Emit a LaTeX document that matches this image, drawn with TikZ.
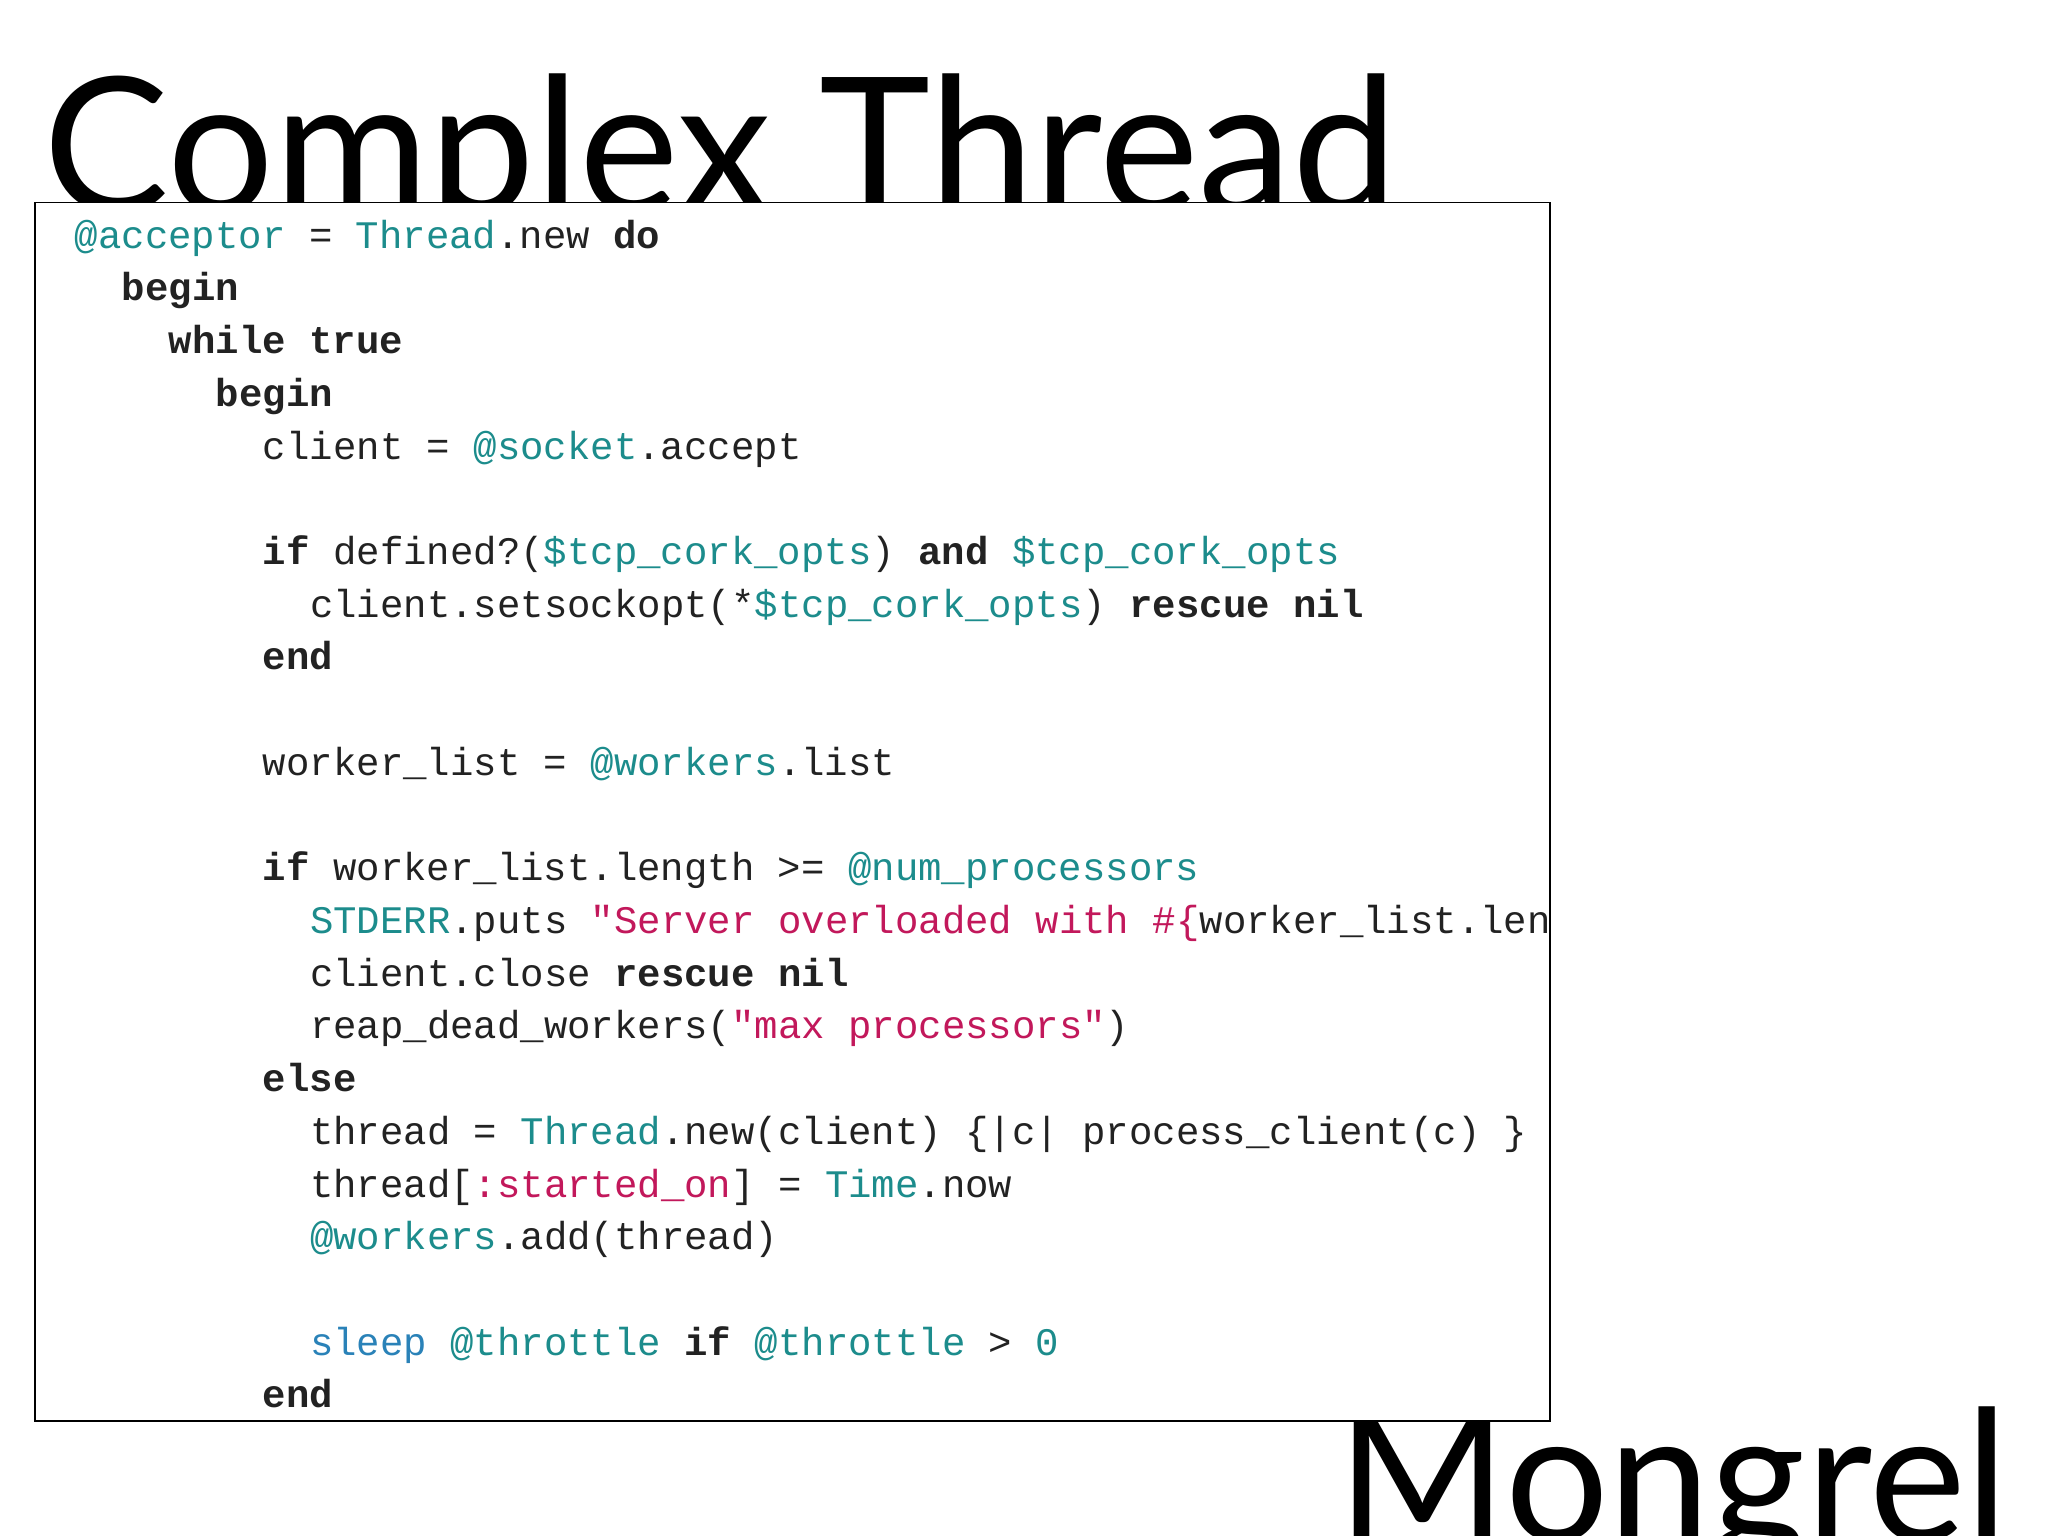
\documentclass[tikz,border=0pt]{standalone}
\usepackage{fontspec}
\setmainfont{Lato}
\setmonofont{Liberation Mono}
\usepackage{graphicx}
\definecolor{tl}{HTML}{1C8C8C}
\definecolor{st}{HTML}{C2185B}
\definecolor{bl}{HTML}{2A82B8}
\definecolor{tx}{HTML}{222222}
\newcommand{\kw}[1]{\textbf{#1}}
\newcommand{\tq}[1]{\textcolor{tl}{#1}}
\newcommand{\sq}[1]{\textcolor{st}{#1}}
\newcommand{\bq}[1]{\textcolor{bl}{#1}}
\tikzset{codeline/.style={anchor=base west,inner sep=0pt,font=\fontsize{17}{20}\selectfont\ttfamily,text=tx},
 bigtitle/.style={anchor=base west,inner sep=0pt}}
\begin{document}
\begin{tikzpicture}[x=0.02cm,y=-0.02cm]
\useasboundingbox (0,0) rectangle (1568,1176);
\fill[white] (0,0) rectangle (1568,1176);
\node[bigtitle] (title) at (33,163) {\resizebox{590pt}{!}{Complex Thread}};
\node[bigtitle] (mong) at (1024,1180) {\resizebox{292pt}{!}{Mongrel}};
\draw[fill=white,line width=0.8pt] (27,155) rectangle (1187,1088);
\begin{scope}
\clip (28,156) rectangle (1186,1087);
\def\L{40.36}
\newcommand{\cl}[3]{\node[codeline] at ({57+18*#1},{190+\L*#2}) {#3};}
\cl{0}{0}{\tq{@acceptor} = \tq{Thread}.new \kw{do}}
\cl{2}{1}{\kw{begin}}
\cl{4}{2}{\kw{while true}}
\cl{6}{3}{\kw{begin}}
\cl{8}{4}{client = \tq{@socket}.accept}
\cl{8}{6}{\kw{if} defined?(\tq{\$tcp\_cork\_opts}) \kw{and} \tq{\$tcp\_cork\_opts}}
\cl{10}{7}{client.setsockopt(*\tq{\$tcp\_cork\_opts}) \kw{rescue nil}}
\cl{8}{8}{\kw{end}}
\cl{8}{10}{worker\_list = \tq{@workers}.list}
\cl{8}{12}{\kw{if} worker\_list.length >= \tq{@num\_processors}}
\cl{10}{13}{\tq{STDERR}.puts \sq{"Server overloaded with \#\{}worker\_list.length\sq{\}"}}
\cl{10}{14}{client.close \kw{rescue nil}}
\cl{10}{15}{reap\_dead\_workers(\sq{"max processors"})}
\cl{8}{16}{\kw{else}}
\cl{10}{17}{thread = \tq{Thread}.new(client) \{|c| process\_client(c) \}}
\cl{10}{18}{thread[\sq{:started\_on}] = \tq{Time}.now}
\cl{10}{19}{\tq{@workers}.add(thread)}
\cl{10}{21}{\bq{sleep} \tq{@throttle} \kw{if} \tq{@throttle} > \tq{0}}
\cl{8}{22}{\kw{end}}
\end{scope}
\end{tikzpicture}
\end{document}
